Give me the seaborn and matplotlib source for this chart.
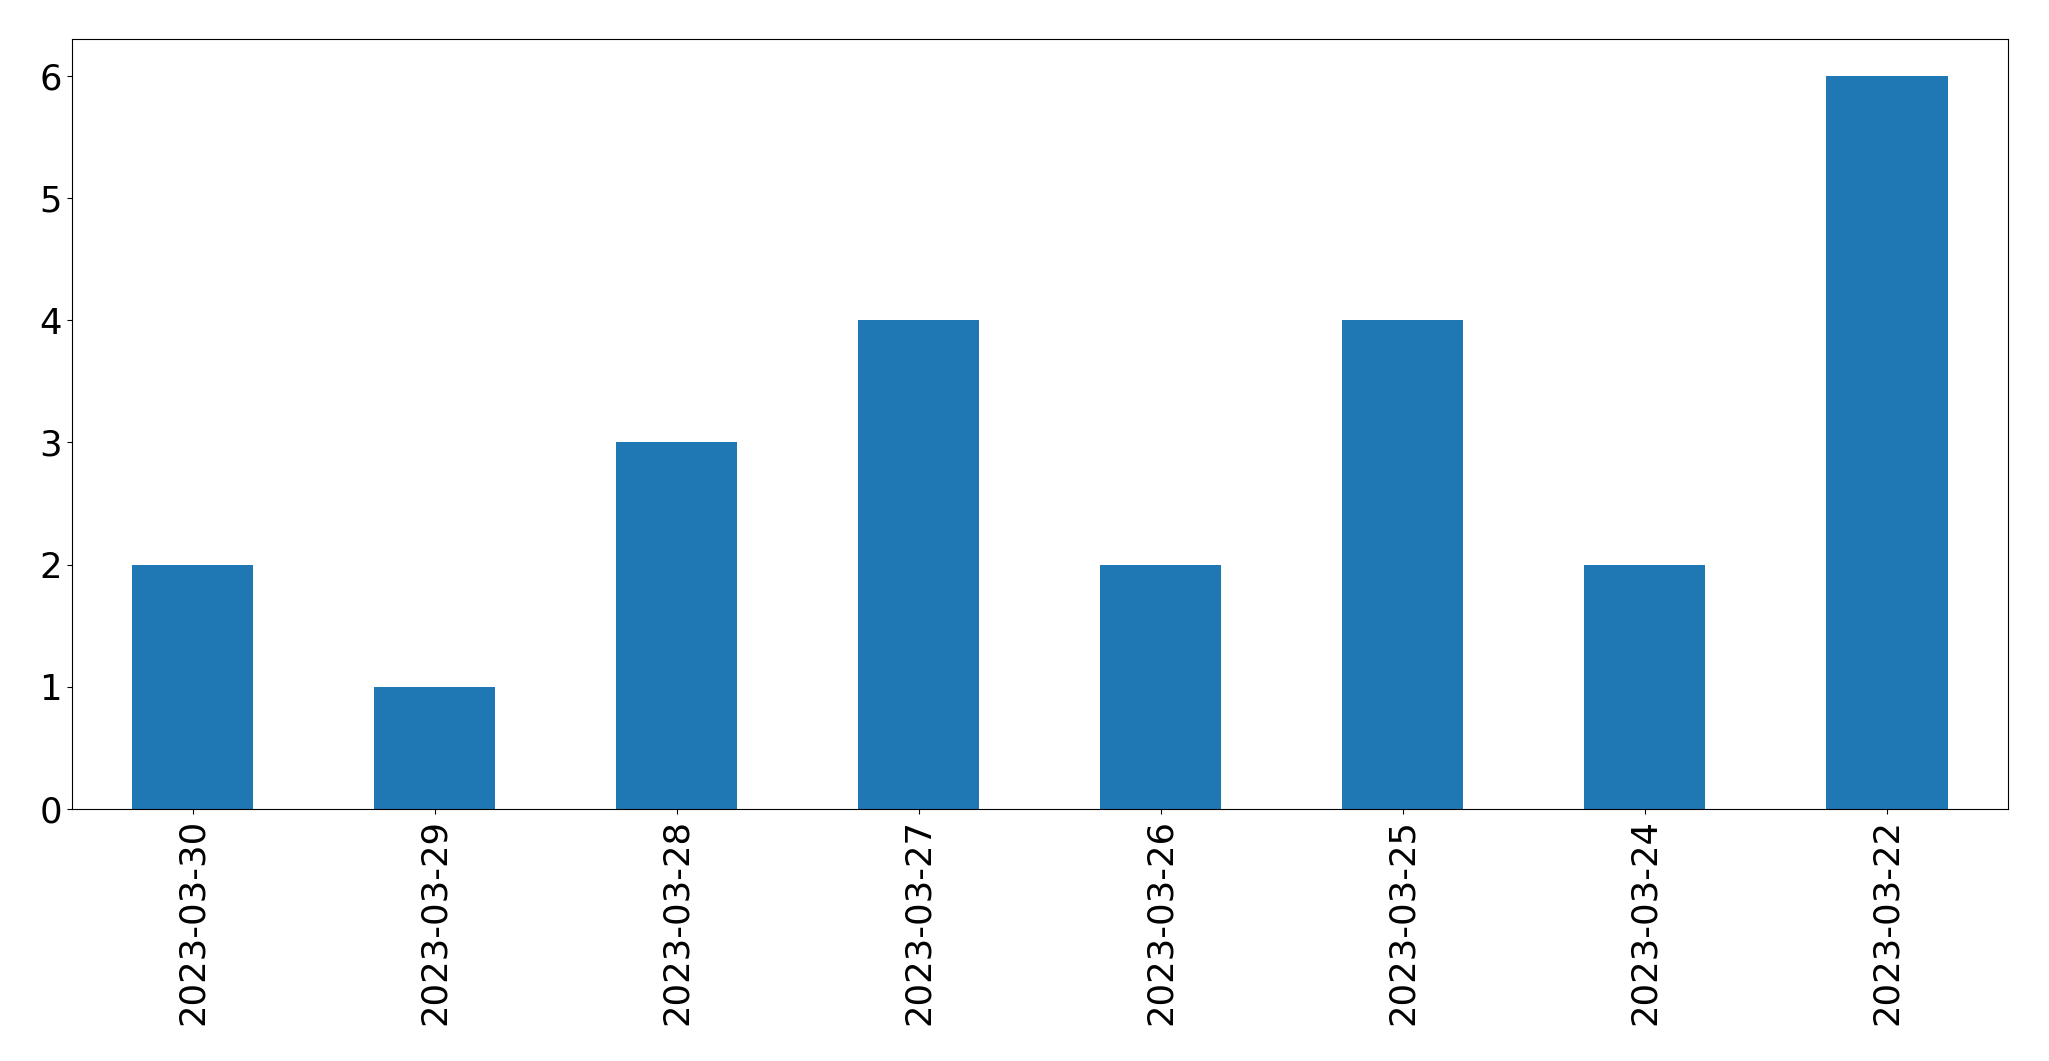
import matplotlib
matplotlib.use("Agg")
import matplotlib.pyplot as plt
import seaborn as sns
import pandas as pd

# data
dates = ["2023-03-30", "2023-03-29", "2023-03-28", "2023-03-27",
         "2023-03-26", "2023-03-25", "2023-03-24", "2023-03-22"]
counts = [2, 1, 3, 4, 2, 4, 2, 6]

df = pd.DataFrame({"date": dates, "count": counts})

fig, ax = plt.subplots(figsize=(20.49, 10.61), dpi=100)
sns.barplot(data=df, x="date", y="count", color="#1f77b4", saturation=1,
            width=0.5, ax=ax)

ax.set_xlim(-0.5, len(dates) - 0.5)
ax.set_ylim(0, 6.3)
ax.set_xlabel("")
ax.set_ylabel("")
ax.tick_params(axis="both", labelsize=25.5)
ax.tick_params(axis="x", labelrotation=90)

fig.subplots_adjust(left=0.035, right=0.98, top=0.963, bottom=0.2375)
fig.savefig("out.png", dpi=100)
